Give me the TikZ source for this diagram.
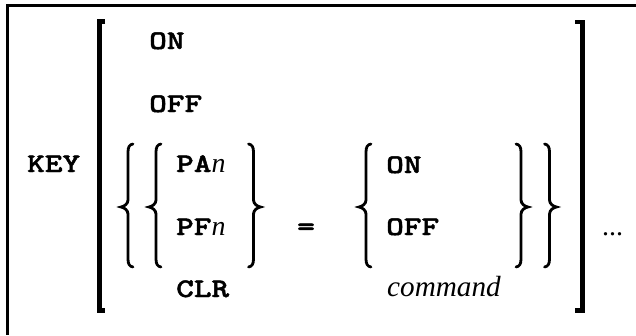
\documentclass[tikz,border=0pt]{standalone}
\usepackage{fontspec}
\usepackage{graphicx}
\setmainfont{Liberation Serif}
\newfontfamily\kwfont{lmmonolt10-bold}[Extension=.otf, FakeBold=1.6, FakeStretch=1.25]
\newcommand\VN{{\rmfamily\mdseries\itshape\fontsize{28}{28}\selectfont n}}
\tikzset{
  kw/.style={font=\kwfont\fontsize{27}{27}\selectfont, inner sep=0pt, anchor=base west},
  var/.style={font=\rmfamily\itshape\fontsize{29.3}{29.3}\selectfont, inner sep=0pt, anchor=base west},
  brk/.style={line width=4.5bp, line cap=butt, line join=miter},
  br/.style={line width=2.8bp, line cap=round},
  frame/.style={line width=2.2bp}
}
\newcommand\LBrc[4]{% xbar, top, mid, bottom
  \draw[br] (#1+5,#2) .. controls (#1+1.5,#2+0.5) and (#1,#2+3) .. (#1,#2+8)
    -- (#1,#3-7) .. controls (#1,#3-3) and (#1-4,#3-0.5) .. (#1-7,#3)
    .. controls (#1-4,#3+0.5) and (#1,#3+3) .. (#1,#3+7)
    -- (#1,#4-8) .. controls (#1,#4-3) and (#1+1.5,#4-0.5) .. (#1+5,#4);}
\newcommand\RBrc[4]{% xbar, top, mid, bottom
  \draw[br] (#1-5,#2) .. controls (#1-1.5,#2+0.5) and (#1,#2+3) .. (#1,#2+8)
    -- (#1,#3-7) .. controls (#1,#3-3) and (#1+4,#3-0.5) .. (#1+7,#3)
    .. controls (#1+4,#3+0.5) and (#1,#3+3) .. (#1,#3+7)
    -- (#1,#4-8) .. controls (#1,#4-3) and (#1-1.5,#4-0.5) .. (#1-5,#4);}
\begin{document}
\begin{tikzpicture}[x=1bp,y=-1bp]
\useasboundingbox (0,0) rectangle (636,335);
% frame (cropped box)
\draw[frame] (7.5,5.5) -- (636,5.5);
\draw[frame] (7.5,4.4) -- (7.5,335);
% big brackets
\draw[brk] (105,21.5) -- (99.5,21.5) -- (99.5,310.5) -- (105,310.5);
\draw[brk] (575,22) -- (582.5,22) -- (582.5,310.5) -- (575,310.5);
% braces
\LBrc{128}{144}{207}{267}
\LBrc{156}{144}{207}{267}
\RBrc{253.5}{144}{207}{267}
\LBrc{366}{144}{207}{267}
\RBrc{521}{144}{207}{267}
\RBrc{549.5}{144}{207}{267}
% texts
\node[kw] (key) at (27,172) {KEY};
\node[kw] (on1) at (149,49) {ON};
\node[kw] (off1) at (149,112) {OFF};
\node[kw] (pan) at (176,172) {PA\VN};
\node[kw] (pfn) at (176,235) {PF\VN};
\node[kw] (clr) at (176,297) {CLR};
\node[kw] (eq) at (297,235) {=};
\node[kw] (on2) at (386,173) {ON};
\node[kw] (off2) at (386,235) {OFF};
\node[var] (cmd) at (387,296) {command};
\node[font=\rmfamily\fontsize{28}{28}\selectfont, inner sep=0pt, anchor=base west] (dots) at (602,235) {...};
\end{tikzpicture}
\end{document}
